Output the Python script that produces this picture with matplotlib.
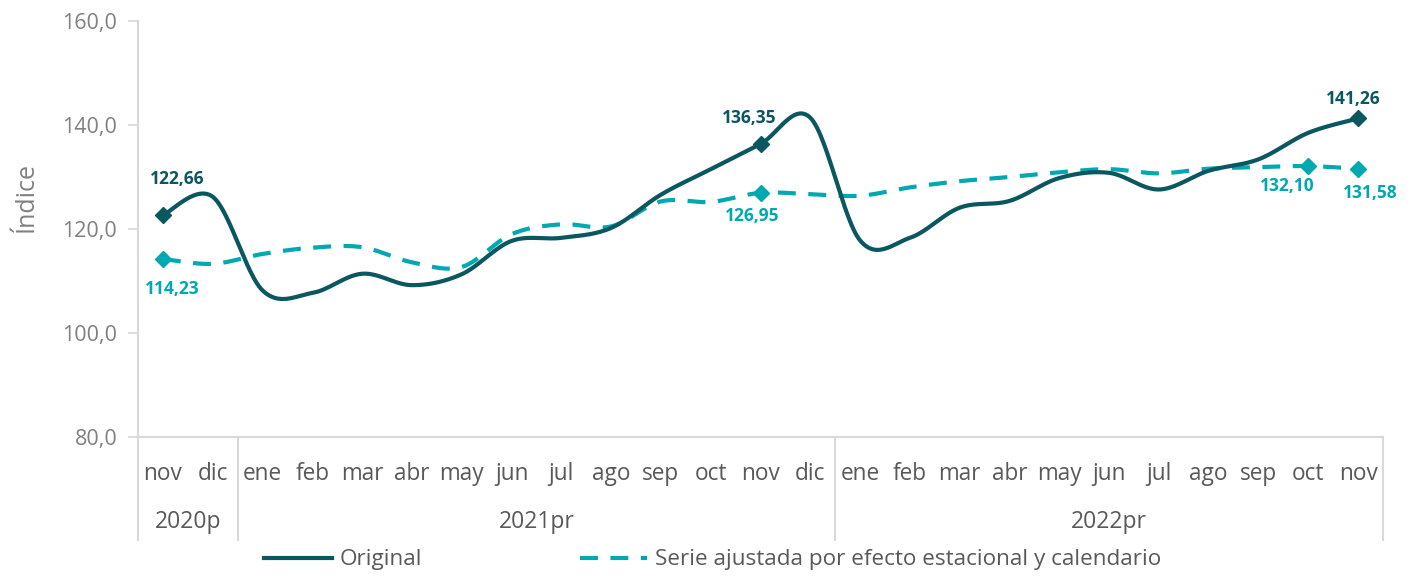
import numpy as np
import matplotlib
matplotlib.use("Agg")
import matplotlib.pyplot as plt
import matplotlib.transforms as mtransforms
from matplotlib.lines import Line2D

plt.rcParams['font.family'] = ['Open Sans', 'DejaVu Sans']

months = ["nov", "dic", "ene", "feb", "mar", "abr", "may", "jun", "jul", "ago", "sep", "oct", "nov",
          "dic", "ene", "feb", "mar", "abr", "may", "jun", "jul", "ago", "sep", "oct", "nov"]
years = ["2020p", "2021pr", "2022pr"]
year_sizes = [2, 12, 11]

original = [122.66, 126.2, 108.2, 107.7, 111.4, 109.2, 111.3, 117.7, 118.3, 120.2, 126.6, 131.5, 136.35,
            141.4, 117.8, 118.3, 124.1, 125.4, 129.8, 130.8, 127.6, 131.2, 133.4, 138.5, 141.26]
ajustada = [114.23, 113.3, 115.2, 116.4, 116.5, 113.6, 112.7, 119.0, 120.9, 120.5, 125.3, 125.2, 126.95,
            126.7, 126.4, 128.0, 129.2, 130.0, 130.9, 131.5, 130.7, 131.6, 131.9, 132.10, 131.58]

labels_orig = {0: "122,66", 12: "136,35", 24: "141,26"}
labels_adj = {0: "114,23", 12: "126,95", 23: "132,10", 24: "131,58"}

C_DARK = "#0B5760"
C_CYAN = "#00A8B0"
C_AXIS = "#D9D9D9"


def smooth(xs, ys, n=30):
    # Bezier smoothing (Catmull-Rom style) through the data points
    P = np.column_stack([xs, ys]).astype(float)
    Pext = np.vstack([P[0], P, P[-1]])
    out = []
    ts = np.linspace(0, 1, n)
    for i in range(len(P) - 1):
        p0, p1, p2, p3 = Pext[i], Pext[i + 1], Pext[i + 2], Pext[i + 3]
        c1 = p1 + (p2 - p0) / 6.0
        c2 = p2 - (p3 - p1) / 6.0
        seg = (((1 - ts) ** 3)[:, None] * p1 + (3 * (1 - ts) ** 2 * ts)[:, None] * c1
               + (3 * (1 - ts) * ts ** 2)[:, None] * c2 + (ts ** 3)[:, None] * p2)
        out.append(seg if i == 0 else seg[1:])
    S = np.vstack(out)
    return S[:, 0], S[:, 1]


fig = plt.figure(figsize=(14.12, 5.76), dpi=100)
ax = fig.add_axes([138 / 1412, 1 - 437 / 576, (1383 - 138) / 1412, (437 - 21) / 576])

x = np.arange(len(months))

sx, sy = smooth(x, ajustada)
ax.plot(sx, sy, color=C_CYAN, lw=3.0, dashes=(4.3, 3.0), solid_capstyle='butt', zorder=2)
idx_a = list(labels_adj.keys())
ax.plot(x[idx_a], np.array(ajustada)[idx_a], ls='none', marker='D', ms=8, color=C_CYAN, zorder=3)

sx, sy = smooth(x, original)
ax.plot(sx, sy, color=C_DARK, lw=3.0, zorder=4)
idx_o = list(labels_orig.keys())
ax.plot(x[idx_o], np.array(original)[idx_o], ls='none', marker='D', ms=8, color=C_DARK, zorder=5)

# data labels
off_o = {0: (14, 36), 12: (-11, 26), 24: (-5, 19)}
off_a = {0: (9, -30), 12: (-8, -23), 23: (-21, -20), 24: (12, -24)}
for i, t in labels_orig.items():
    ax.annotate(t, (x[i], original[i]), xytext=off_o[i], textcoords='offset pixels',
                ha='center', va='center', color=C_DARK, fontsize=12.5, fontweight='bold')
for i, t in labels_adj.items():
    ax.annotate(t, (x[i], ajustada[i]), xytext=off_a[i], textcoords='offset pixels',
                ha='center', va='center', color=C_CYAN, fontsize=12.5, fontweight='bold')

ax.set_xlim(-0.5, len(months) - 0.5)
ax.set_ylim(80, 160)
ax.set_yticks([80, 100, 120, 140, 160])
ax.set_yticklabels(["80,0", "100,0", "120,0", "140,0", "160,0"])
ax.tick_params(axis='y', length=7, width=1.2, color=C_AXIS, labelcolor="#808080", labelsize=15.5, pad=8)
ax.set_xticks([])

for s in ['top', 'right']:
    ax.spines[s].set_visible(False)
ax.spines['left'].set_color(C_AXIS)
ax.spines['left'].set_linewidth(1.5)
ax.spines['bottom'].set_color(C_AXIS)
ax.spines['bottom'].set_linewidth(1.5)

ax.set_ylabel("Índice", color="#808080", fontsize=18)
ax.yaxis.set_label_coords(-0.080, 0.577)

trans = mtransforms.blended_transform_factory(ax.transData, ax.transAxes)
for i, m in enumerate(months):
    ax.text(x[i], -0.089, m, transform=trans, ha='center', va='center', fontsize=16.3, color="#595959")

bounds = np.concatenate([[0], np.cumsum(year_sizes)]) - 0.5
for b in bounds:
    ax.plot([b, b], [0, -0.248], transform=trans, color=C_AXIS, lw=1.5, clip_on=False)
for k, yname in enumerate(years):
    cx = (bounds[k] + bounds[k + 1]) / 2
    ax.text(cx, -0.204, yname, transform=trans, ha='center', va='center', fontsize=16.5, color="#595959")

handles = [Line2D([], [], color=C_DARK, lw=3.0),
           Line2D([], [], color=C_CYAN, lw=3.0, dashes=(4.3, 3.0))]
fig.legend(handles, ["Original", "Serie ajustada por efecto estacional y calendario"],
           loc='center', bbox_to_anchor=(713 / 1412, 1 - 560 / 576), ncol=2, frameon=False,
           fontsize=16.2, labelcolor="#595959", handlelength=3.0, columnspacing=7.0, handletextpad=0.35)

fig.savefig("out.png", dpi=100)
